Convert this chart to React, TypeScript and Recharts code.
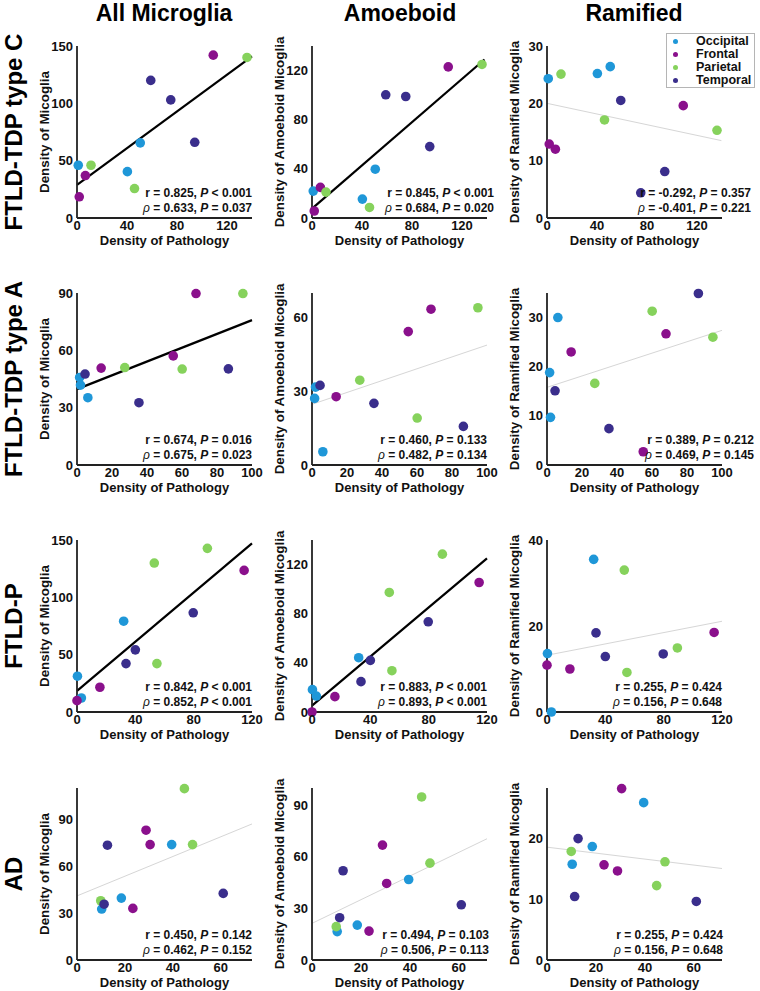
import React from 'react';
import { ScatterChart, Scatter, XAxis, YAxis, ReferenceLine, Legend } from 'recharts';

const FONT = '"Liberation Sans", Arial, Helvetica, sans-serif';

const REGIONS = ['Occipital', 'Frontal', 'Parietal', 'Temporal'];
const REGION_COLORS = ['#1f97d8', '#8a108c', '#86d25c', '#3a2e8c'];

const COLUMN_TITLES = ['All Microglia', 'Amoeboid', 'Ramified'];
const ROW_TITLES = ['FTLD-TDP type C', 'FTLD-TDP type A', 'FTLD-P', 'AD'];
const Y_TITLES = ['Density of Micoglia', 'Density of Amoeboid Micoglia', 'Density of Ramified Micoglia'];
const X_TITLE = 'Density of Pathology';

// ---------- FTLD-TDP type C ----------
const C_X_OCC = [1, 40.3, 50.6];
const C_X_FRO = [1.8, 6.7, 109];
const C_X_PAR = [11.2, 46, 136];
const C_X_TEM = [59, 75, 94.2];
const C_ALL_OCC = [46, 40.4, 65.5];
const C_ALL_FRO = [18.5, 37, 142];
const C_ALL_PAR = [46, 25.7, 140];
const C_ALL_TEM = [120, 103, 66];
const C_AMO_OCC = [21.9, 15.4, 39.7];
const C_AMO_FRO = [5.7, 24.9, 123];
const C_AMO_PAR = [21.1, 8.6, 125];
const C_AMO_TEM = [100.3, 98.9, 58.1];
const C_RAM_OCC = [24.3, 25.2, 26.4];
const C_RAM_FRO = [12.9, 12.0, 19.6];
const C_RAM_PAR = [25.1, 17.1, 15.3];
const C_RAM_TEM = [20.5, 4.4, 8.1];

// ---------- FTLD-TDP type A ----------
const A_X_OCC = [1.5, 2.0, 6.2];
const A_X_FRO = [13.8, 55, 68];
const A_X_PAR = [27.3, 60.1, 94.8];
const A_X_TEM = [4.6, 35.4, 86.5];
const A_ALL_OCC = [45.8, 41.8, 35.2];
const A_ALL_FRO = [50.7, 57.1, 89.7];
const A_ALL_PAR = [51, 50.2, 89.7];
const A_ALL_TEM = [47.6, 32.6, 50.3];
const A_AMO_OCC = [27.1, 31.7, 5.4];
const A_AMO_FRO = [27.8, 54.3, 63.4];
const A_AMO_PAR = [34.5, 19.1, 64];
const A_AMO_TEM = [32.4, 25.1, 15.7];
const A_RAM_OCC = [18.8, 9.7, 30];
const A_RAM_FRO = [23, 2.7, 26.7];
const A_RAM_PAR = [16.6, 31.3, 26];
const A_RAM_TEM = [15.1, 7.4, 34.9];

// ---------- FTLD-P ----------
const P_X_OCC = [0.3, 3, 32];
const P_X_FRO = [0, 15.7, 114.6];
const P_X_PAR = [53, 54.8, 89.4];
const P_X_TEM = [33.6, 40, 79.7];
const P_ALL_OCC = [31.2, 12.2, 79.2];
const P_ALL_FRO = [9.9, 21.6, 123.5];
const P_ALL_PAR = [129.9, 42.2, 142.7];
const P_ALL_TEM = [42.2, 54.2, 86.5];
const P_AMO_OCC = [18.2, 13, 44.2];
const P_AMO_FRO = [0, 12.5, 105.4];
const P_AMO_PAR = [97.3, 33.6, 128.5];
const P_AMO_TEM = [24.7, 42, 73.4];
const P_RAM_OCC = [13.6, 0, 35.5];
const P_RAM_FRO = [10.9, 10, 18.5];
const P_RAM_PAR = [33, 9.2, 14.9];
const P_RAM_TEM = [18.4, 12.9, 13.5];

// ---------- AD ----------
const D_X_OCC = [10.3, 18.5, 39.5];
const D_X_FRO = [23.3, 28.8, 30.5];
const D_X_PAR = [9.9, 44.8, 48.2];
const D_X_TEM = [11.3, 12.7, 61];
const D_ALL_OCC = [32.6, 39.6, 73.8];
const D_ALL_FRO = [33, 83, 73.8];
const D_ALL_PAR = [37.9, 109.6, 73.8];
const D_ALL_TEM = [35.7, 73.4, 42.6];
const D_AMO_OCC = [16.5, 20.3, 46.8];
const D_AMO_FRO = [16.8, 66.8, 44.5];
const D_AMO_PAR = [19.4, 94.8, 56.3];
const D_AMO_TEM = [24.6, 51.9, 32.1];
const D_RAM_OCC = [15.7, 18.6, 25.8];
const D_RAM_FRO = [15.6, 14.6, 28.1];
const D_RAM_PAR = [17.8, 12.2, 16.1];
const D_RAM_TEM = [10.4, 19.9, 9.6];

// axes per panel
const X_DOMAINS = [
  [[0, 140], [0, 140], [0, 140]],
  [[0, 100], [0, 100], [0, 100]],
  [[0, 120], [0, 120], [0, 120]],
  [[0, 73], [0, 71.5], [0, 71.5]],
];
const ROW_X_TICKS = [[0, 40, 80, 120], [0, 20, 40, 60, 80, 100], [0, 40, 80, 120], [0, 20, 40, 60]];
const Y_DOMAINS = [
  [[0, 150], [0, 140], [0, 30]],
  [[0, 90], [0, 70], [0, 35]],
  [[0, 150], [0, 140], [0, 40]],
  [[0, 110], [0, 100], [0, 28.2]],
];
const Y_TICKS = [
  [[0, 50, 100, 150], [0, 40, 80, 120], [0, 10, 20, 30]],
  [[0, 30, 60, 90], [0, 30, 60], [0, 10, 20, 30]],
  [[0, 50, 100, 150], [0, 40, 80, 120], [0, 20, 40]],
  [[0, 30, 60, 90], [0, 30, 60, 90], [0, 10, 20]],
];

// regression line endpoints [x0, y0, x1, y1] and significance
const FIT_LINES = [
  [[0, 28.8, 140, 141], [0, 7.6, 138, 129], [0, 20.0, 139.5, 13.5]],
  [[0, 39.7, 100, 75.8], [0, 24.7, 100, 48.8], [0, 15.8, 100, 27.4]],
  [[0, 18.4, 120, 147], [0, 5.2, 120, 125], [0, 13.2, 120, 21.1]],
  [[0, 41, 73, 87], [0, 21.3, 71.5, 70.5], [0, 18.5, 71.5, 15]],
];
const FIT_SIGNIFICANT = [
  [true, true, false],
  [true, false, false],
  [true, true, false],
  [false, false, false],
];

// statistics text: [r, P(r), rho, P(rho)]
const STATS = [
  [['0.825', '< 0.001', '0.633', '= 0.037'], ['0.845', '< 0.001', '0.684', '= 0.020'], ['-0.292', '= 0.357', '-0.401', '= 0.221']],
  [['0.674', '= 0.016', '0.675', '= 0.023'], ['0.460', '= 0.133', '0.482', '= 0.134'], ['0.389', '= 0.212', '0.469', '= 0.145']],
  [['0.842', '< 0.001', '0.852', '< 0.001'], ['0.883', '< 0.001', '0.893', '< 0.001'], ['0.255', '= 0.424', '0.156', '= 0.648']],
  [['0.450', '= 0.142', '0.462', '= 0.152'], ['0.494', '= 0.103', '0.506', '= 0.113'], ['0.255', '= 0.424', '0.156', '= 0.648']],
];

const ROW_X = [
  [C_X_OCC, C_X_FRO, C_X_PAR, C_X_TEM],
  [A_X_OCC, A_X_FRO, A_X_PAR, A_X_TEM],
  [P_X_OCC, P_X_FRO, P_X_PAR, P_X_TEM],
  [D_X_OCC, D_X_FRO, D_X_PAR, D_X_TEM],
];
const PANEL_Y = [
  [
    [C_ALL_OCC, C_ALL_FRO, C_ALL_PAR, C_ALL_TEM],
    [C_AMO_OCC, C_AMO_FRO, C_AMO_PAR, C_AMO_TEM],
    [C_RAM_OCC, C_RAM_FRO, C_RAM_PAR, C_RAM_TEM],
  ],
  [
    [A_ALL_OCC, A_ALL_FRO, A_ALL_PAR, A_ALL_TEM],
    [A_AMO_OCC, A_AMO_FRO, A_AMO_PAR, A_AMO_TEM],
    [A_RAM_OCC, A_RAM_FRO, A_RAM_PAR, A_RAM_TEM],
  ],
  [
    [P_ALL_OCC, P_ALL_FRO, P_ALL_PAR, P_ALL_TEM],
    [P_AMO_OCC, P_AMO_FRO, P_AMO_PAR, P_AMO_TEM],
    [P_RAM_OCC, P_RAM_FRO, P_RAM_PAR, P_RAM_TEM],
  ],
  [
    [D_ALL_OCC, D_ALL_FRO, D_ALL_PAR, D_ALL_TEM],
    [D_AMO_OCC, D_AMO_FRO, D_AMO_PAR, D_AMO_TEM],
    [D_RAM_OCC, D_RAM_FRO, D_RAM_PAR, D_RAM_TEM],
  ],
];

// layout
const COL_LEFT = [77, 312, 547];
const ROW_TOP = [46, 293, 540, 788];
const PLOT_W = 175;
const PLOT_H = 172;
const M_TOP = 16;
const M_LEFT = 25;
const Y_AXIS_W = 45;
const X_AXIS_H = 40;
const CHART_W = M_LEFT + Y_AXIS_W + PLOT_W + 12;
const CHART_H = M_TOP + PLOT_H + X_AXIS_H + 5;
const STAT_SHIFT = [[0, 7, 29], [0, 0, 32], [0, 0, 0], [0, 2, 1]];
const COL_TITLE_X = [164, 400, 634];

const tickStyle = { fill: '#111', fontSize: 13, fontWeight: 'bold', fontFamily: FONT };
const axisLineStyle = { stroke: '#222', strokeWidth: 1.8 };

const makeDot = (color: string) => (props: any) => (
  <circle cx={props.cx} cy={props.cy} r={4.8} fill={color} />
);

const renderLegend = () => (
  <div
    style={{
      border: '1px solid #b5b5b5',
      background: '#fff',
      width: 89,
      height: 55,
      boxSizing: 'border-box',
      paddingTop: 1,
      fontFamily: FONT,
      fontWeight: 'bold',
      fontSize: 12.5,
      color: '#111',
    }}
  >
    {REGIONS.map((name, i) => (
      <div key={name} style={{ height: 13, display: 'flex', alignItems: 'center', lineHeight: '13px' }}>
        <span style={{ display: 'inline-block', width: 5, height: 5, borderRadius: 3, background: REGION_COLORS[i], marginLeft: 6 }} />
        <span style={{ marginLeft: 18 }}>{name}</span>
      </div>
    ))}
  </div>
);

function Panel({ row, col }: { row: number; col: number }) {
  const xs = ROW_X[row];
  const ys = PANEL_Y[row][col];
  const fit = FIT_LINES[row][col];
  const sig = FIT_SIGNIFICANT[row][col];
  const left = COL_LEFT[col] - M_LEFT - Y_AXIS_W;
  const top = ROW_TOP[row] - M_TOP;
  return (
    <div style={{ position: 'absolute', left, top, width: CHART_W, height: CHART_H }}>
      <ScatterChart
        width={CHART_W}
        height={CHART_H}
        margin={{ top: M_TOP, right: 12, bottom: 5, left: M_LEFT }}
      >
        <XAxis
          type="number"
          dataKey="x"
          domain={X_DOMAINS[row][col]}
          ticks={ROW_X_TICKS[row]}
          interval={0}
          height={X_AXIS_H}
          tickLine={false}
          tickSize={0}
          tickMargin={3}
          axisLine={axisLineStyle}
          tick={tickStyle}
        />
        <YAxis
          type="number"
          dataKey="y"
          domain={Y_DOMAINS[row][col]}
          ticks={Y_TICKS[row][col]}
          interval={0}
          width={Y_AXIS_W}
          tickLine={false}
          tickSize={0}
          tickMargin={4}
          axisLine={axisLineStyle}
          tick={tickStyle}
        />
        <ReferenceLine
          segment={[{ x: fit[0], y: fit[1] }, { x: fit[2], y: fit[3] }]}
          stroke={sig ? '#000' : '#d6d6d6'}
          strokeWidth={sig ? 2.2 : 1}
          ifOverflow="visible"
        />
        {REGIONS.map((name, i) => (
          <Scatter
            key={name}
            name={name}
            data={xs[i].map((x: number, k: number) => ({ x, y: ys[i][k] }))}
            fill={REGION_COLORS[i]}
            shape={makeDot(REGION_COLORS[i])}
            isAnimationActive={false}
          />
        ))}
        {row === 0 && col === 2 ? (
          <Legend
            layout="vertical"
            align="center"
            verticalAlign="middle"
            wrapperStyle={{ left: 666 - left, top: 33 - top, width: 89, height: 55 }}
            content={renderLegend}
          />
        ) : null}
      </ScatterChart>
    </div>
  );
}

function Texts() {
  const items: any[] = [];
  COLUMN_TITLES.forEach((t, c) => {
    items.push(
      <text key={'ct' + c} x={COL_TITLE_X[c]} y={21} textAnchor="middle" fontSize={23} fontWeight="bold" fontFamily={FONT} fill="#000">
        {t}
      </text>
    );
  });
  ROW_TITLES.forEach((t, r) => {
    const cy = ROW_TOP[r] + PLOT_H / 2;
    items.push(
      <text key={'rt' + r} x={22} y={cy} transform={`rotate(-90, 22, ${cy})`} textAnchor="middle" fontSize={24} fontWeight="bold" fontFamily={FONT} fill="#000">
        {t}
      </text>
    );
  });
  for (let r = 0; r < 4; r++) {
    for (let c = 0; c < 3; c++) {
      const L = COL_LEFT[c];
      const T = ROW_TOP[r];
      const B = T + PLOT_H;
      const yx = L - 28;
      const yc = T + PLOT_H / 2;
      items.push(
        <text key={`yt${r}${c}`} x={yx} y={yc} transform={`rotate(-90, ${yx}, ${yc})`} textAnchor="middle" fontSize={13.4} fontWeight="bold" fontFamily={FONT} fill="#111">
          {Y_TITLES[c]}
        </text>
      );
      items.push(
        <text key={`xt${r}${c}`} x={L + PLOT_W / 2} y={B + 27} textAnchor="middle" fontSize={13} fontWeight="bold" fontFamily={FONT} fill="#111">
          {X_TITLE}
        </text>
      );
      const s = STATS[r][c];
      const rx = L + PLOT_W + STAT_SHIFT[r][c];
      items.push(
        <text key={`s1${r}${c}`} x={rx} y={B - 21} textAnchor="end" fontSize={12} fontWeight="bold" fontFamily={FONT} fill="#111">
          {'r = ' + s[0] + ', '}
          <tspan fontStyle="italic">P</tspan>
          {' ' + s[1]}
        </text>
      );
      items.push(
        <text key={`s2${r}${c}`} x={rx} y={B - 6} textAnchor="end" fontSize={12} fontWeight="bold" fontFamily={FONT} fill="#111">
          <tspan fontStyle="italic" fontWeight="normal">ρ</tspan>
          {' = ' + s[2] + ', '}
          <tspan fontStyle="italic">P</tspan>
          {' ' + s[3]}
        </text>
      );
    }
  }
  return (
    <svg width={760} height={991} style={{ position: 'absolute', left: 0, top: 0, pointerEvents: 'none' }}>
      {items}
    </svg>
  );
}

export default function App() {
  const panels: any[] = [];
  for (let r = 0; r < 4; r++) {
    for (let c = 0; c < 3; c++) {
      panels.push(<Panel key={`${r}-${c}`} row={r} col={c} />);
    }
  }
  return (
    <div style={{ position: 'absolute', left: 0, top: 0, width: 760, height: 991, background: '#fff', overflow: 'hidden' }}>
      {panels}
      <Texts />
    </div>
  );
}
